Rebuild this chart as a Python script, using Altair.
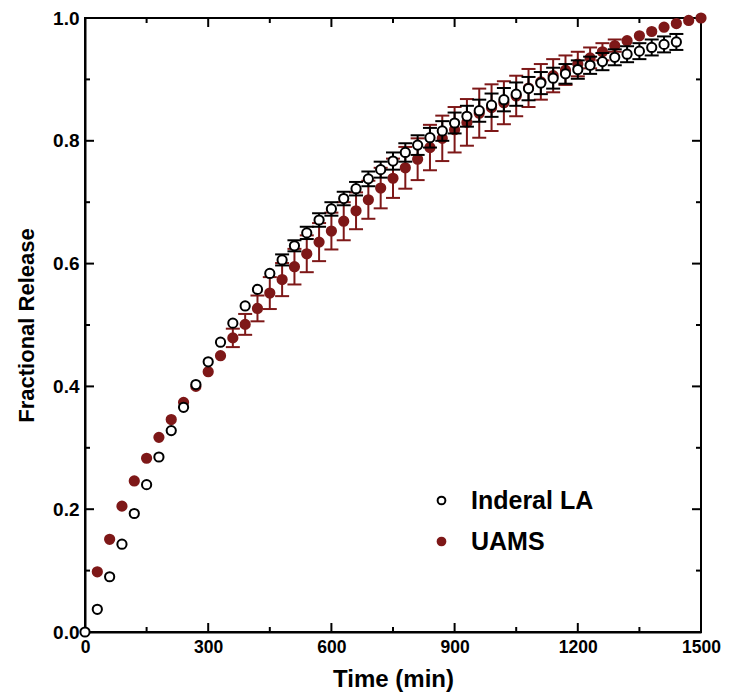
import altair as alt
import pandas as pd

# ---------------- data ----------------
time_inderal = [0, 30, 60, 90, 120, 150, 180, 210, 240, 270, 300, 330, 360, 390, 420, 450,
                480, 510, 540, 570, 600, 630, 660, 690, 720, 750, 780, 810, 840, 870, 900,
                930, 960, 990, 1020, 1050, 1080, 1110, 1140, 1170, 1200, 1230, 1260, 1290,
                1320, 1350, 1380, 1410, 1440]
frac_inderal = [0.000, 0.037, 0.090, 0.143, 0.193, 0.240, 0.285, 0.328, 0.366, 0.403, 0.440,
                0.472, 0.503, 0.531, 0.558, 0.584, 0.606, 0.629, 0.650, 0.671, 0.689, 0.706,
                0.722, 0.738, 0.753, 0.767, 0.781, 0.793, 0.805, 0.816, 0.829, 0.840, 0.849,
                0.858, 0.867, 0.876, 0.885, 0.894, 0.902, 0.909, 0.916, 0.923, 0.929, 0.936,
                0.941, 0.946, 0.952, 0.957, 0.961]
err_inderal = [0.000, 0.000, 0.000, 0.000, 0.000, 0.000, 0.000, 0.000, 0.000, 0.000, 0.000,
               0.000, 0.000, 0.000, 0.000, 0.000, 0.009, 0.009, 0.010, 0.011, 0.011, 0.011,
               0.011, 0.012, 0.013, 0.014, 0.015, 0.016, 0.016, 0.016, 0.017, 0.017, 0.018,
               0.019, 0.019, 0.019, 0.019, 0.018, 0.017, 0.016, 0.015, 0.014, 0.014, 0.013,
               0.013, 0.013, 0.013, 0.013, 0.013]

time_uams = [30, 60, 90, 120, 150, 180, 210, 240, 270, 300, 330, 360, 390, 420, 450, 480,
             510, 540, 570, 600, 630, 660, 690, 720, 750, 780, 810, 840, 870, 900, 930, 960,
             990, 1020, 1050, 1080, 1110, 1140, 1170, 1200, 1230, 1260, 1290, 1320, 1350,
             1380, 1410, 1440, 1470, 1500]
frac_uams = [0.098, 0.151, 0.205, 0.246, 0.283, 0.317, 0.346, 0.374, 0.400, 0.424, 0.450,
             0.479, 0.501, 0.527, 0.552, 0.574, 0.595, 0.616, 0.635, 0.653, 0.669, 0.686,
             0.704, 0.723, 0.739, 0.756, 0.770, 0.789, 0.804, 0.818, 0.830, 0.845, 0.854,
             0.862, 0.873, 0.886, 0.896, 0.906, 0.915, 0.925, 0.935, 0.945, 0.955, 0.963,
             0.971, 0.978, 0.985, 0.991, 0.996, 1.000]
err_uams = [0.000, 0.000, 0.000, 0.000, 0.000, 0.000, 0.000, 0.000, 0.000, 0.000, 0.000,
            0.015, 0.017, 0.021, 0.026, 0.027, 0.029, 0.030, 0.031, 0.030, 0.031, 0.030,
            0.031, 0.033, 0.032, 0.034, 0.034, 0.037, 0.037, 0.037, 0.038, 0.040, 0.038,
            0.035, 0.033, 0.031, 0.029, 0.027, 0.024, 0.020, 0.017, 0.014, 0.010, 0.000,
            0.000, 0.000, 0.000, 0.000, 0.000, 0.000]

series_names = ["Inderal LA", "UAMS"]
x_major = [0, 300, 600, 900, 1200, 1500]
x_minor = [150, 450, 750, 1050, 1350]
y_major = [0.0, 0.2, 0.4, 0.6, 0.8, 1.0]
y_minor = [0.1, 0.3, 0.5, 0.7, 0.9]

rows = []
for t, f, e in zip(time_inderal, frac_inderal, err_inderal):
    rows.append({"series": "Inderal LA", "time": t, "frac": f, "lo": f - e, "hi": f + e, "err": e})
for t, f, e in zip(time_uams, frac_uams, err_uams):
    rows.append({"series": "UAMS", "time": t, "frac": f, "lo": f - e, "hi": f + e, "err": e})
df = pd.DataFrame(rows)

RED = "#7e1818"
FONT = "Liberation Sans"
W, H = 616, 614
MAJ, MIN = 9, 5

xscale = alt.Scale(domain=[0, 1500], nice=False, zero=False)
yscale = alt.Scale(domain=[0, 1], nice=False, zero=False)

x_axis_main = alt.Axis(values=x_major, format="d", title="Time (min)", ticks=False, grid=False,
                       domainColor="black", domainWidth=2, labelFont=FONT,
                       labelFontSize=17.5, labelFontWeight="bold", labelColor="black",
                       labelPadding=6, titleFont=FONT, titleFontSize=24,
                       titleFontWeight="bold", titleColor="black", titlePadding=12,
                       labelFlush=False, labelOverlap=False)
y_axis_main = alt.Axis(values=y_major, format=".1f", title="Fractional Release",
                       ticks=False, grid=False, domainColor="black", domainWidth=2,
                       labelFont=FONT, labelFontSize=19, labelFontWeight="bold",
                       labelColor="black", labelPadding=6, titleFont=FONT,
                       titleFontSize=22, titleFontWeight="bold", titleColor="black",
                       titlePadding=14, labelFlush=False, labelOverlap=False)


def xe(field="time"):
    return alt.X(f"{field}:Q", scale=xscale, axis=x_axis_main, title="Time (min)")


def ye(field):
    return alt.Y(f"{field}:Q", scale=yscale, axis=y_axis_main, title="Fractional Release")


legend = alt.Legend(title=None, orient="none", legendX=344, legendY=470,
                    labelFont=FONT, labelFontSize=25, labelFontWeight="bold",
                    labelColor="black", symbolSize=60, symbolStrokeWidth=2,
                    rowPadding=15, labelOffset=17, symbolType="circle")
stroke_scale = alt.Scale(domain=series_names, range=["black", RED])
fill_scale = alt.Scale(domain=series_names, range=["white", RED])


def series_layers(name, color):
    base = alt.Chart(df).transform_filter(alt.datum.series == name)
    errs = base.transform_filter(alt.datum.err > 0)
    bars = errs.mark_rule(color=color, strokeWidth=2, opacity=1).encode(
        x=xe(), y=ye("lo"), y2="hi:Q")
    cap_lo = errs.mark_tick(color=color, thickness=2, size=14, orient="horizontal",
                            opacity=1).encode(x=xe(), y=ye("lo"))
    cap_hi = errs.mark_tick(color=color, thickness=2, size=14, orient="horizontal",
                            opacity=1).encode(x=xe(), y=ye("hi"))
    pts = base.mark_point(size=85, strokeWidth=2, opacity=1, filled=False).encode(
        x=xe(), y=ye("frac"),
        stroke=alt.Stroke("series:N", scale=stroke_scale, legend=legend),
        fill=alt.Fill("series:N", scale=fill_scale, legend=legend),
    )
    return [bars, cap_lo, cap_hi, pts]


# inward tick marks on all four sides
def xticks(values, length):
    c = alt.Chart(pd.DataFrame({"v": values})).mark_rule(color="black", strokeWidth=2)
    bottom = c.encode(x=xe("v"), y=alt.value(H), y2=alt.value(H - length))
    top = c.encode(x=xe("v"), y=alt.value(0), y2=alt.value(length))
    return [bottom, top]


def yticks(values, length):
    c = alt.Chart(pd.DataFrame({"v": values})).mark_rule(color="black", strokeWidth=2)
    left = c.encode(y=ye("v"), x=alt.value(0), x2=alt.value(length))
    right = c.encode(y=ye("v"), x=alt.value(W), x2=alt.value(W - length))
    return [left, right]


tick_layers = xticks(x_major, MAJ) + xticks(x_minor, MIN) + yticks(y_major, MAJ) + yticks(y_minor, MIN)

chart = alt.layer(
    *(tick_layers + series_layers("UAMS", RED) + series_layers("Inderal LA", "black"))
).properties(
    width=W, height=H,
    autosize=alt.AutoSizeParams(type="none"),
    padding={"left": 77, "top": 10, "right": 20, "bottom": 60},
).configure_view(stroke="black", strokeWidth=2)

chart.save("out.html", embed_options={"renderer": "svg", "actions": False})
